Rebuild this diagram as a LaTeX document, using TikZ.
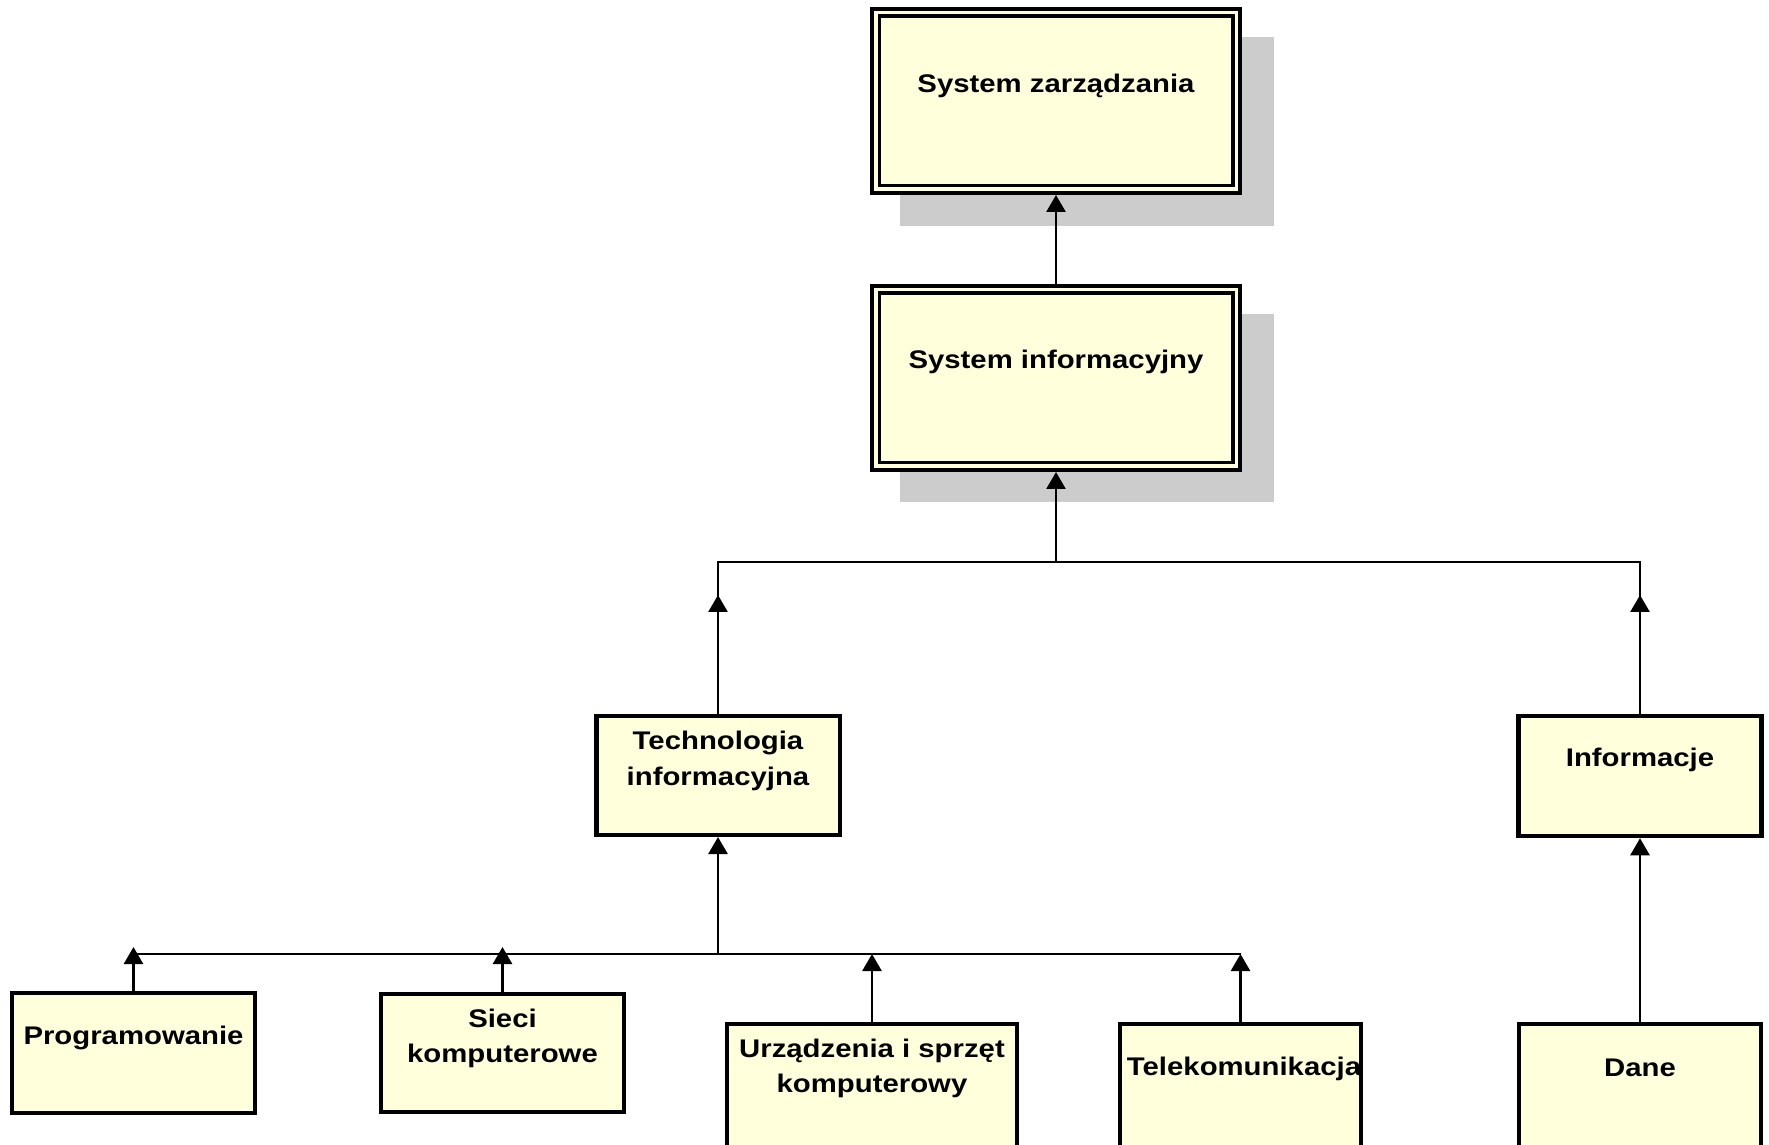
\documentclass[tikz,border=0pt]{standalone}
\usepackage{fontspec}
\newfontfamily\boxfont[FakeStretch=1.15]{Liberation Sans}
\usetikzlibrary{arrows.meta}
\definecolor{boxfill}{HTML}{FFFFDC}
\definecolor{shadowgray}{HTML}{CCCCCC}
\tikzset{
  box/.style={rectangle, draw=black, line width=4.5pt, fill=boxfill, inner sep=0pt},
  bigbox/.style={box, line width=4pt, minimum width=368pt, minimum height=184pt},
  leafbox/.style={box, minimum width=243pt, minimum height=120pt},
  openbox/.style={box, minimum height=140pt},
  innerframe/.style={draw=black, line width=3.5pt},
  dropshadow/.style={fill=shadowgray},
  lbl/.style={anchor=base, inner sep=0pt, font=\boxfont\bfseries\fontsize{25.5}{30}\selectfont},
  conn/.style={draw=black, line width=2.6pt},
  tipconn/.style={conn, -{Triangle[width=19pt,length=17pt]}},
}
\begin{document}
\begin{tikzpicture}[x=1pt,y=1pt]
  \useasboundingbox (0,0) rectangle (1769,1144);
  \fill[white] (0,0) rectangle (1769,1144);
  \clip (0,0) rectangle (1769,1144);

  % upper level boxes with drop shadow and double frame
  \node[bigbox, draw=none, fill=none] (zarz) at (1056,1043) {};
  \node[bigbox, draw=none, fill=none] (info) at (1056,766) {};
  \fill[dropshadow] ([shift={(30,-30)}]zarz.north west) rectangle ([shift={(32,-31)}]zarz.south east);
  \fill[dropshadow] ([shift={(30,-30)}]info.north west) rectangle ([shift={(32,-30)}]info.south east);
  \node[bigbox] at (zarz) {};
  \node[bigbox] at (info) {};
  \draw[innerframe] ([shift={(9.25,-9.25)}]zarz.north west) rectangle ([shift={(-9.25,9.25)}]zarz.south east);
  \draw[innerframe] ([shift={(9.25,-9.25)}]info.north west) rectangle ([shift={(-9.25,9.25)}]info.south east);

  % middle level
  \node[box, minimum width=243.5pt, minimum height=118.5pt] (tech) at (718,368.5) {};
  \node[leafbox] (inf) at (1640,368) {};

  % bottom level
  \node[leafbox] (prog) at (133.5,91) {};
  \node[leafbox, minimum height=118pt] (sieci) at (502.5,91) {};
  \node[openbox, minimum width=290pt] (urz) at (872,50) {};
  \node[openbox, minimum width=241pt] (tele) at (1240.5,50) {};
  \node[openbox, minimum width=242pt] (dane) at (1640,50) {};

  % labels
  \node[lbl] (t-zarz) at (1056,1051) {System zarządzania};
  \node[lbl] (t-info) at (1056,775) {System informacyjny};
  \node[lbl] (t-tech1) at (718,394) {Technologia};
  \node[lbl] (t-tech2) at (718,359) {informacyjna};
  \node[lbl] (t-inf) at (1640,377) {Informacje};
  \node[lbl] (t-prog) at (133.5,100) {Programowanie};
  \node[lbl] (t-sieci1) at (502.5,117) {Sieci};
  \node[lbl] (t-sieci2) at (502.5,82) {komputerowe};
  \node[lbl] (t-urz1) at (872,87) {Urządzenia i sprzęt};
  \node[lbl] (t-urz2) at (872,52) {komputerowy};
  \node[lbl] (t-tele) at (1244,69) {Telekomunikacja};
  \node[lbl] (t-dane) at (1640,68) {Dane};

  % bus junctions and arrow tips
  \coordinate (busC) at (1056,582);
  \coordinate (busL) at (718,582);
  \coordinate (busR) at (1640,582);
  \coordinate (techTip) at (718,549);
  \coordinate (infTip) at (1640,549);
  \coordinate (lowC) at (718,190);
  \coordinate (lowL) at (133.5,190);
  \coordinate (lowR) at (1240.5,190);
  \coordinate (progTip) at (133.5,197);
  \coordinate (sieciTip) at (502.5,197);
  \coordinate (urzTip) at (872,190);

  % connectors
  \draw[tipconn] (info.north) -- (zarz.south);
  \draw[tipconn] (busC) -- (info.south);
  \draw[conn] (tech.north) -- (busL) -- (busR) -- (inf.north);
  \draw[tipconn] (tech.north) -- (techTip);
  \draw[tipconn] (inf.north) -- (infTip);
  \draw[tipconn] (dane.north) -- (inf.south);
  \draw[conn] (lowL) -- (lowR);
  \draw[tipconn] (lowC) -- (tech.south);
  \draw[tipconn] (prog.north) -- (progTip);
  \draw[tipconn] (sieci.north) -- (sieciTip);
  \draw[tipconn] (urz.north) -- (urzTip);
  \draw[tipconn] (tele.north) -- (lowR);
\end{tikzpicture}
\end{document}
